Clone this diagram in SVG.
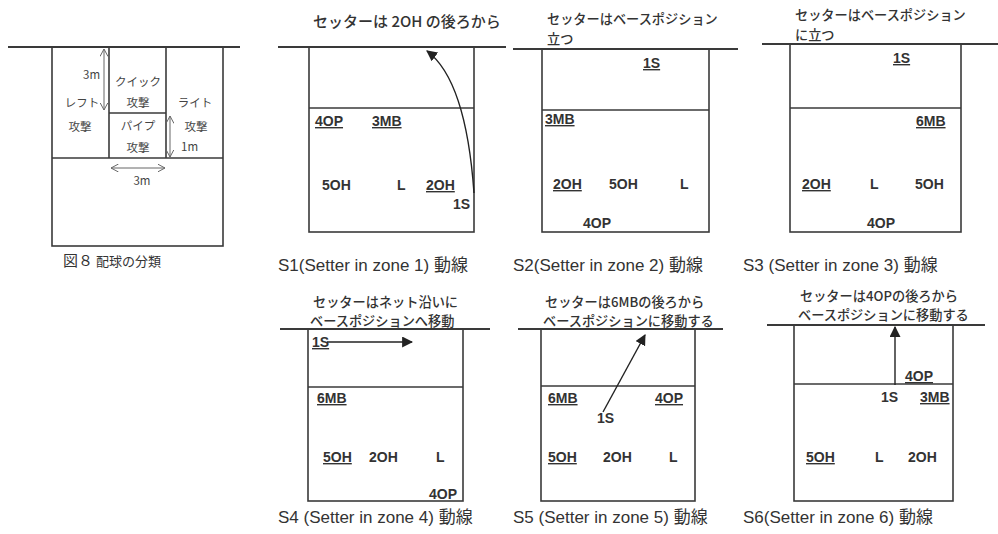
<svg xmlns="http://www.w3.org/2000/svg" width="998" height="534" viewBox="0 0 998 534">
<defs>
<style>
.net{stroke:#3a3a3a;stroke-width:2;fill:none}
.ln{stroke:#3a3a3a;stroke-width:1.6;fill:none}
.dim{stroke:#666;stroke-width:1;fill:none}
.mv{stroke:#222;stroke-width:1.4;fill:none}
.t{font-family:"Noto Sans CJK JP","Liberation Sans",sans-serif;fill:#333}
.f8{font-family:"Noto Sans CJK JP",sans-serif;font-size:11.5px;fill:#444}
.ttl{font-family:"Noto Sans CJK JP",sans-serif;font-size:13.2px;fill:#333;font-weight:500}
.lb{font-family:"Liberation Sans",Arial,sans-serif;font-size:14px;font-weight:bold;fill:#333}
.u{text-decoration:underline}
.cap{font-family:"Liberation Sans","Noto Sans CJK JP",sans-serif;font-size:17px;fill:#333}
</style>
<marker id="open" viewBox="0 0 8 8" refX="7.5" refY="4" markerWidth="8" markerHeight="8" markerUnits="userSpaceOnUse" orient="auto-start-reverse">
<path d="M0,0 L7.5,4 L0,8" fill="none" stroke="#666" stroke-width="1"/>
</marker>
<marker id="tri" viewBox="0 0 10 10" refX="9" refY="5" markerWidth="11" markerHeight="11" markerUnits="userSpaceOnUse" orient="auto">
<path d="M0,0 L10,5 L0,10 Z" fill="#222"/>
</marker>
</defs>

<!-- Figure 8 -->
<g id="fig8">
<line class="net" x1="8" y1="47" x2="240" y2="47"/>
<rect class="ln" x="52" y="47" width="171" height="199"/>
<line class="ln" x1="52" y1="158" x2="223" y2="158"/>
<line class="ln" x1="109" y1="47" x2="109" y2="158"/>
<line class="ln" x1="166" y1="47" x2="166" y2="158"/>
<line class="ln" x1="109" y1="113" x2="166" y2="113"/>
<line class="dim" x1="104" y1="49" x2="104" y2="110" marker-start="url(#open)" marker-end="url(#open)"/>
<line class="dim" x1="170" y1="116" x2="170" y2="157" marker-start="url(#open)" marker-end="url(#open)"/>
<line class="dim" x1="111" y1="168" x2="165" y2="168" marker-start="url(#open)" marker-end="url(#open)"/>
<text class="f8" x="83" y="79">3m</text>
<text class="f8" x="82" y="107" text-anchor="middle">レフト</text>
<text class="f8" x="80" y="131" text-anchor="middle">攻撃</text>
<text class="f8" x="138" y="86" text-anchor="middle">クイック</text>
<text class="f8" x="138" y="107" text-anchor="middle">攻撃</text>
<text class="f8" x="138" y="130" text-anchor="middle">パイプ</text>
<text class="f8" x="138" y="152" text-anchor="middle">攻撃</text>
<text class="f8" x="195" y="107" text-anchor="middle">ライト</text>
<text class="f8" x="196" y="131" text-anchor="middle">攻撃</text>
<text class="f8" x="181" y="151">1m</text>
<text class="f8" x="142" y="185" text-anchor="middle">3m</text>
<text class="t" x="63" y="266" font-size="15">図８</text>
<text class="t" x="96" y="266" font-size="13">配球の分類</text>
</g>

<!-- S1 -->
<g id="s1">
<text class="ttl" x="313" y="27" style="font-size:15px">セッターは 2OH の後ろから</text>
<line class="net" x1="278" y1="47" x2="506" y2="47"/>
<rect class="ln" x="309" y="47" width="165" height="185"/>
<line class="ln" x1="309" y1="108" x2="474" y2="108"/>
<text class="lb u" x="315" y="126">4OP</text>
<text class="lb u" x="372" y="126">3MB</text>
<text class="lb" x="322" y="190">5OH</text>
<text class="lb" x="397" y="190">L</text>
<text class="lb u" x="426" y="190">2OH</text>
<text class="lb" x="453" y="209">1S</text>
<text class="cap" x="278" y="271">S1(Setter in zone 1) 動線</text>
</g>

<!-- S2 -->
<g id="s2">
<text class="ttl" x="547" y="24">セッターはベースポジション<tspan x="547" dy="19.5">立つ</tspan></text>
<line class="net" x1="513" y1="49" x2="738" y2="49"/>
<rect class="ln" x="542" y="49" width="167" height="183"/>
<line class="ln" x1="542" y1="110" x2="709" y2="110"/>
<text class="lb u" x="643" y="68">1S</text>
<text class="lb u" x="545" y="124">3MB</text>
<text class="lb u" x="553" y="189">2OH</text>
<text class="lb" x="609" y="189">5OH</text>
<text class="lb" x="680" y="189">L</text>
<text class="lb" x="583" y="228">4OP</text>
<text class="cap" x="513" y="271">S2(Setter in zone 2) 動線</text>
</g>

<!-- S3 -->
<g id="s3">
<text class="ttl" x="795" y="20">セッターはベースポジション<tspan x="795" dy="19.5">に立つ</tspan></text>
<line class="net" x1="762" y1="44" x2="998" y2="44"/>
<rect class="ln" x="790" y="44" width="171" height="188"/>
<line class="ln" x1="790" y1="108" x2="961" y2="108"/>
<text class="lb u" x="893" y="63">1S</text>
<text class="lb u" x="916" y="126">6MB</text>
<text class="lb u" x="802" y="189">2OH</text>
<text class="lb" x="870" y="189">L</text>
<text class="lb" x="915" y="189">5OH</text>
<text class="lb" x="867" y="228">4OP</text>
<text class="cap" x="743" y="271">S3 (Setter in zone 3) 動線</text>
</g>

<!-- S4 -->
<g id="s4">
<text class="ttl" x="313" y="306.5">セッターはネット沿いに<tspan x="310" dy="19.5">ベースポジションへ移動</tspan></text>
<line class="net" x1="280" y1="329" x2="490" y2="329"/>
<rect class="ln" x="308" y="329" width="155" height="172"/>
<line class="ln" x1="308" y1="387" x2="463" y2="387"/>
<text class="lb u" x="312" y="347">1S</text>
<text class="lb u" x="317" y="403">6MB</text>
<text class="lb u" x="323" y="462">5OH</text>
<text class="lb" x="369" y="462">2OH</text>
<text class="lb" x="436" y="462">L</text>
<text class="lb" x="429" y="499">4OP</text>
<text class="cap" x="278" y="523">S4 (Setter in zone 4) 動線</text>
</g>

<!-- S5 -->
<g id="s5">
<text class="ttl" x="545" y="306.5">セッターは6MBの後ろから<tspan x="543" dy="19.5">ベースポジションに移動する</tspan></text>
<line class="net" x1="518" y1="329" x2="723" y2="329"/>
<rect class="ln" x="541" y="329" width="154" height="172"/>
<line class="ln" x1="541" y1="386" x2="695" y2="386"/>
<text class="lb u" x="548" y="403">6MB</text>
<text class="lb u" x="655" y="403">4OP</text>
<text class="lb" x="597" y="423">1S</text>
<text class="lb u" x="548" y="462">5OH</text>
<text class="lb" x="603" y="462">2OH</text>
<text class="lb" x="669" y="462">L</text>
<text class="cap" x="513" y="523">S5 (Setter in zone 5) 動線</text>
</g>

<!-- S6 -->
<g id="s6">
<text class="ttl" x="800" y="300.5">セッターは4OPの後ろから<tspan x="798" dy="19.5">ベースポジションに移動する</tspan></text>
<line class="net" x1="767" y1="325" x2="985" y2="325"/>
<rect class="ln" x="794" y="325" width="159" height="176"/>
<line class="ln" x1="794" y1="384" x2="953" y2="384"/>
<text class="lb u" x="905" y="381">4OP</text>
<text class="lb" x="881" y="402">1S</text>
<text class="lb u" x="920" y="402">3MB</text>
<text class="lb u" x="806" y="462">5OH</text>
<text class="lb" x="875" y="462">L</text>
<text class="lb" x="908" y="462">2OH</text>
<text class="cap" x="743" y="523">S6(Setter in zone 6) 動線</text>
</g>

<!-- connectors: setter movement -->
<g id="connectors">
<path class="mv" d="M474,193 Q466,80 427,51" marker-end="url(#tri)"/>
<line class="mv" x1="327" y1="342" x2="412" y2="342" marker-end="url(#tri)"/>
<line class="mv" x1="603" y1="412" x2="645" y2="335" marker-end="url(#tri)"/>
<line class="mv" x1="895" y1="385" x2="895" y2="327" marker-end="url(#tri)"/>
</g>
</svg>
